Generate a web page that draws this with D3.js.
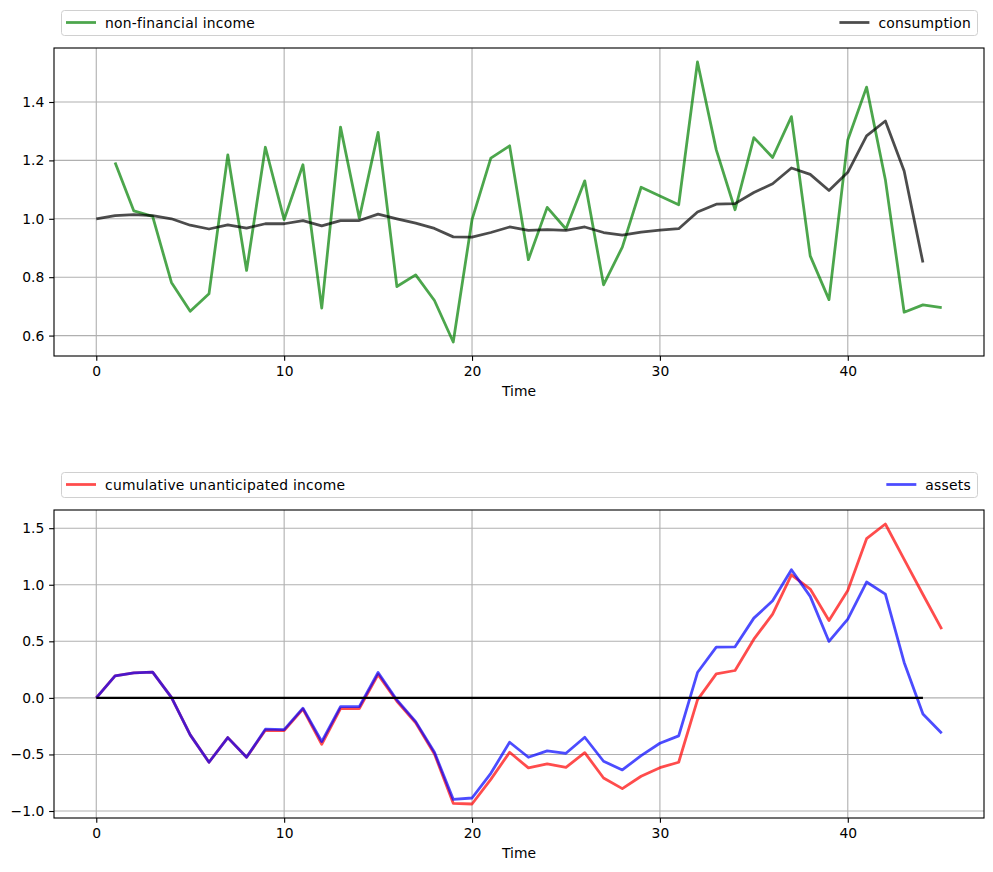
<!DOCTYPE html>
<html>
<head>
<meta charset="utf-8">
<script src="https://cdn.jsdelivr.net/npm/d3@7"></script>
<style>
  body { margin: 0; background: #fff; }
  text { font-family: 'DejaVu Sans', sans-serif; }
</style>
</head>
<body>
<div id="grafica"></div>
<script>
// datos
tiempo = [0, 1, 2, 3, 4, 5, 6, 7, 8, 9, 10, 11, 12, 13, 14, 15, 16, 17, 18, 19, 20, 21, 22,
          23, 24, 25, 26, 27, 28, 29, 30, 31, 32, 33, 34, 35, 36, 37, 38, 39, 40, 41, 42, 43, 44, 45]

ingreso = [null, 1.193, 1.027, 1.008, 0.782, 0.683, 0.743, 1.219, 0.823, 1.245, 0.997, 1.185,
           0.694, 1.314, 1.002, 1.296, 0.768, 0.808, 0.720, 0.578, 0.997, 1.208, 1.250, 0.860,
           1.039, 0.965, 1.130, 0.774, 0.903, 1.108, 1.078, 1.048, 1.537, 1.236, 1.031, 1.278,
           1.210, 1.350, 0.873, 0.723, 1.270, 1.451, 1.134, 0.680, 0.705, 0.696]

consumo = [1.000, 1.011, 1.014, 1.011, 1.000, 0.978, 0.965, 0.979, 0.968, 0.983, 0.983, 0.994,
           0.976, 0.994, 0.994, 1.016, 1.000, 0.985, 0.967, 0.938, 0.937, 0.953, 0.972, 0.960,
           0.963, 0.960, 0.972, 0.953, 0.944, 0.954, 0.961, 0.966, 1.023, 1.050, 1.052, 1.090,
           1.120, 1.174, 1.152, 1.097, 1.159, 1.284, 1.335, 1.164, 0.850, null]

acumulado = [0, 0.195, 0.221, 0.227, 0.005, -0.327, -0.569, -0.351, -0.525, -0.286, -0.290, -0.100,
             -0.410, -0.094, -0.094, 0.206, -0.030, -0.220, -0.496, -0.932, -0.938, -0.720, -0.481,
             -0.619, -0.584, -0.614, -0.484, -0.708, -0.802, -0.693, -0.617, -0.569, -0.018, 0.212,
             0.242, 0.519, 0.740, 1.088, 0.962, 0.684, 0.950, 1.407, 1.537, 1.225, 0.914, 0.608]

activos = [0, 0.195, 0.221, 0.227, 0.005, -0.327, -0.569, -0.351, -0.525, -0.277, -0.280, -0.091,
           -0.386, -0.077, -0.077, 0.224, -0.018, -0.210, -0.481, -0.897, -0.885, -0.667, -0.392,
           -0.525, -0.469, -0.490, -0.348, -0.560, -0.637, -0.510, -0.401, -0.336, 0.224, 0.448,
           0.451, 0.705, 0.858, 1.133, 0.897, 0.499, 0.696, 1.024, 0.917, 0.313, -0.142, -0.313]

cero = [0, 0, 0, 0, 0, 0, 0, 0, 0, 0, 0, 0, 0, 0, 0, 0, 0, 0, 0, 0, 0, 0, 0,
        0, 0, 0, 0, 0, 0, 0, 0, 0, 0, 0, 0, 0, 0, 0, 0, 0, 0, 0, 0, 0, 0, null]

ticksX      = [0, 10, 20, 30, 40]
ticksArriba = [0.6, 0.8, 1.0, 1.2, 1.4]
ticksAbajo  = [-1.0, -0.5, 0.0, 0.5, 1.0, 1.5]

ancho_total = 993
alto_total  = 872
margin = { left: 54, right: 9 }
ancho = ancho_total - margin.left - margin.right
fuente = '13.89px'

svg = d3
        .select('#grafica')
        .append('svg')
        .attr('width', ancho_total)
        .attr('height', alto_total)

x = d3.scaleLinear()
      .domain([-2.25, 47.25])
      .range([0, ancho])

function panel(top, alto, series, yticks, leyenda) {
  g = svg
        .append('g')
        .attr('transform', `translate(${margin.left}, ${top})`)

  todos = series.flatMap((s) => s.valores.filter((v) => v != null))
  ext = d3.extent(todos)
  pad = (ext[1] - ext[0]) * 0.05
  y = d3.scaleLinear()
        .domain([ext[0] - pad, ext[1] + pad])
        .range([alto, 0])

  // rejilla
  g.append('g')
    .selectAll('line')
    .data(ticksX)
    .join('line')
      .attr('x1', (d) => x(d))
      .attr('x2', (d) => x(d))
      .attr('y1', 0)
      .attr('y2', alto)
      .attr('stroke', '#b0b0b0')
      .attr('stroke-width', 1.11)
  g.append('g')
    .selectAll('line')
    .data(yticks)
    .join('line')
      .attr('x1', 0)
      .attr('x2', ancho)
      .attr('y1', (d) => y(d))
      .attr('y2', (d) => y(d))
      .attr('stroke', '#b0b0b0')
      .attr('stroke-width', 1.11)

  // lineas
  series.forEach((s) => {
    linea = d3.line()
              .defined((d, i) => s.valores[i] != null)
              .x((d) => x(d))
              .y((d, i) => y(s.valores[i]))
    g.append('path')
      .datum(tiempo)
      .attr('d', linea)
      .attr('fill', 'none')
      .attr('stroke', s.color)
      .attr('stroke-opacity', s.opacidad)
      .attr('stroke-width', s.grosor)
      .attr('stroke-linejoin', 'round')
  })

  // ejes
  xAxisCall = d3.axisBottom(x)
                .tickValues(ticksX)
                .tickSize(4.86)
                .tickPadding(4.86)
                .tickSizeOuter(0)
  xg = g.append('g')
        .attr('transform', `translate(0, ${alto})`)
        .call(xAxisCall)
  yAxisCall = d3.axisLeft(y)
                .tickValues(yticks)
                .tickFormat(d3.format('.1f'))
                .tickSize(4.86)
                .tickPadding(4.86)
                .tickSizeOuter(0)
  yg = g.append('g').call(yAxisCall)

  ;[xg, yg].forEach((a) => {
    a.select('.domain').remove()
    a.selectAll('text')
      .attr('font-size', fuente)
      .attr('font-family', 'DejaVu Sans')
      .attr('fill', '#000')
    a.selectAll('line').attr('stroke', '#000').attr('stroke-width', 1.11)
  })

  g.append('rect')
    .attr('x', 0)
    .attr('y', 0)
    .attr('width', ancho)
    .attr('height', alto)
    .attr('fill', 'none')
    .attr('stroke', '#000')
    .attr('stroke-width', 1.11)

  g.append('text')
    .attr('x', ancho / 2)
    .attr('y', alto + 40)
    .attr('text-anchor', 'middle')
    .attr('font-size', fuente)
    .text('Time')

  // leyenda arriba del panel, modo expandido
  ley = svg.append('g')
  ley.append('rect')
    .attr('x', 61.5)
    .attr('y', top - 37.5)
    .attr('width', 916)
    .attr('height', 25)
    .attr('rx', 3)
    .attr('fill', '#fff')
    .attr('fill-opacity', 0.8)
    .attr('stroke', '#d0d0d0')
    .attr('stroke-width', 1)

  ly = top - 25.5
  izq = leyenda[0]
  ley.append('line')
    .attr('x1', 66).attr('x2', 96)
    .attr('y1', ly).attr('y2', ly)
    .attr('stroke', izq.color)
    .attr('stroke-opacity', izq.opacidad)
    .attr('stroke-width', 2.78)
  ley.append('text')
    .attr('x', 105)
    .attr('y', ly + 5)
    .attr('font-size', fuente)
    .attr('letter-spacing', '0.25px')
    .text(izq.nombre)

  der = leyenda[1]
  tx = ley.append('text')
          .attr('x', 971)
          .attr('y', ly + 5)
          .attr('text-anchor', 'end')
          .attr('font-size', fuente)
          .attr('letter-spacing', '0.25px')
          .text(der.nombre)
  w = tx.node().getComputedTextLength()
  ley.append('line')
    .attr('x1', 971 - w - 39).attr('x2', 971 - w - 9)
    .attr('y1', ly).attr('y2', ly)
    .attr('stroke', der.color)
    .attr('stroke-opacity', der.opacidad)
    .attr('stroke-width', 2.78)
}

verde = { nombre: 'non-financial income', valores: ingreso, color: '#008000', opacidad: 0.7, grosor: 2.78 }
negro = { nombre: 'consumption', valores: consumo, color: '#000000', opacidad: 0.7, grosor: 2.78 }
rojo  = { nombre: 'cumulative unanticipated income', valores: acumulado, color: '#ff0000', opacidad: 0.7, grosor: 2.78 }
azul  = { nombre: 'assets', valores: activos, color: '#0000ff', opacidad: 0.7, grosor: 2.78 }
linea0 = { nombre: '', valores: cero, color: '#000000', opacidad: 1, grosor: 2.08 }

panel(48, 308, [verde, negro], ticksArriba, [verde, negro])
panel(510, 308, [rojo, azul, linea0], ticksAbajo, [rojo, azul])
</script>
</body>
</html>
